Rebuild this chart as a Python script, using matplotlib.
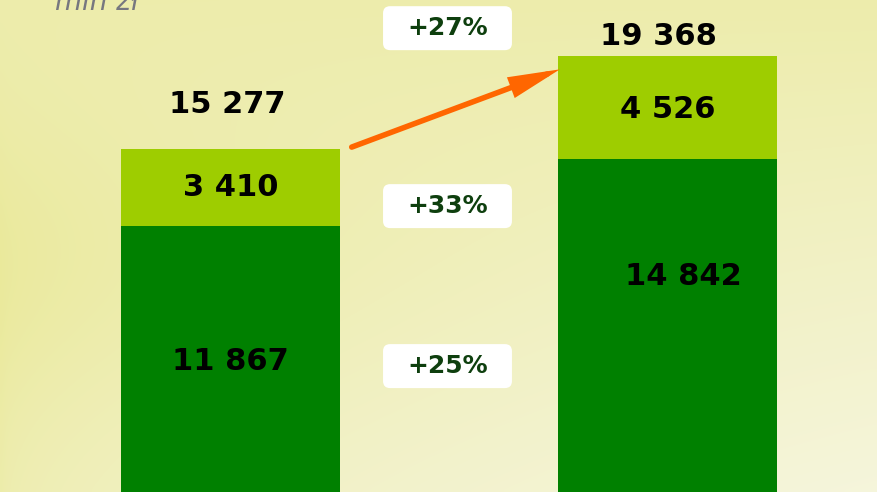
import numpy as np
import matplotlib.pyplot as plt
from matplotlib import patches

# values in mln zł
years_x = [0, 1]
lower = [11867, 14842]
upper = [3410, 4526]
totals = [15277, 19368]
lower_labels = ["11 867", "14 842"]
upper_labels = ["3 410", "4 526"]
total_labels = ["15 277", "19 368"]
growth_labels = ["+25%", "+33%", "+27%"]

DARK = "#008000"
LIGHT = "#9ECD00"
TXT_GREEN = "#0E3F0E"
ORANGE = "#FF6600"
BAR_W = 0.501
XLIM = (-0.527, 1.479)
YLIM = (180, 21830)

fig = plt.figure(figsize=(8.77, 4.92), dpi=100)
ax = fig.add_axes([0, 0, 1, 1])
ax.set_xlim(*XLIM)
ax.set_ylim(*YLIM)
ax.axis("off")

# background gradient: yellow on the left, pale cream towards bottom right
nx, ny = 220, 120
gx = np.linspace(0, 1, nx)[None, :]
gy = np.linspace(0, 1, ny)[:, None]  # 0 top, 1 bottom
yellow = np.array([233, 232, 148]) / 255
pale = np.array([246, 246, 224]) / 255
t = 0.32 + 0.62 * gy * np.sqrt(gx) - 0.22 * np.exp(-((gy - 0.55) / 0.3) ** 2) * (1 - gx) ** 2
t = np.clip(t, 0, 1)
bg = yellow[None, None, :] * (1 - t[..., None]) + pale[None, None, :] * t[..., None]
ax.imshow(bg, extent=[XLIM[0], XLIM[1], YLIM[0], YLIM[1]], aspect="auto", zorder=0,
          interpolation="bicubic")

ax.bar(years_x, lower, width=BAR_W, color=DARK, zorder=2)
ax.bar(years_x, upper, bottom=lower, width=BAR_W, color=LIGHT, zorder=2)

font = dict(family="DejaVu Sans", weight="bold", color="black", fontsize=22)

# segment labels
ax.text(years_x[0], lower[0] / 2, lower_labels[0], ha="center", va="center", zorder=3, **font)
ax.text(years_x[1] + 0.035, lower[1] * 0.65, lower_labels[1], ha="center", va="center", zorder=3, **font)
ax.text(years_x[0], lower[0] + upper[0] / 2, upper_labels[0], ha="center", va="center", zorder=3, **font)
ax.text(years_x[1], lower[1] + upper[1] / 2 - 100, upper_labels[1], ha="center", va="center", zorder=3, **font)
ax.text(years_x[0] - 0.008, totals[0] + 1950, total_labels[0], ha="center", va="center", zorder=3, **font)
ax.text(years_x[1] - 0.02, totals[1] + 870, total_labels[1], ha="center", va="center", zorder=3, **font)

# growth boxes between the bars
box_y = [5720, 12760, 20590]
box_xc = 447.5 / 877
for lab, yv in zip(growth_labels, box_y):
    bw, bh = 0.147, 0.0894
    yc = ax.transLimits.transform((0.5, yv))[1]
    box = patches.FancyBboxPatch((box_xc - bw / 2, yc - bh / 2), bw, bh,
                                 boxstyle="round,pad=0,rounding_size=0.008",
                                 mutation_aspect=1.78,
                                 transform=ax.transAxes, facecolor="white",
                                 edgecolor="none", zorder=3)
    ax.add_patch(box)
    ax.text(box_xc, yc, lab, transform=ax.transAxes, ha="center", va="center",
            family="DejaVu Sans", weight="bold", color=TXT_GREEN, fontsize=18, zorder=4)

# arrow from first total to second
ax.annotate("", xy=(years_x[1] - BAR_W / 2 + 0.004, totals[1] - 590),
            xytext=(years_x[0] + BAR_W / 2 + 0.027, totals[0] + 80),
            arrowprops=dict(arrowstyle="-|>,head_length=2.6,head_width=0.55",
                            color=ORANGE, lw=4, shrinkA=0, shrinkB=0,
                            joinstyle="miter"),
            zorder=5)

fig.text(55 / 877, 1 - 10 / 492, "mln zł", ha="left", va="baseline", style="italic",
         color="#77777F", fontsize=20, family="DejaVu Sans")

fig.savefig("out.png", dpi=100)
